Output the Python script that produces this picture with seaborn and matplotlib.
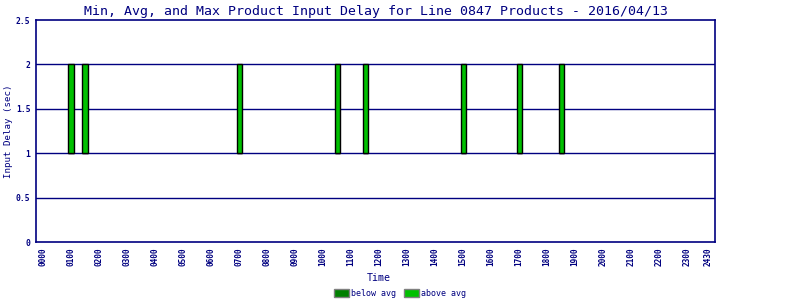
import matplotlib
matplotlib.use("Agg")
import matplotlib.pyplot as plt
import matplotlib.patches as mpatches
import seaborn as sns
import pandas as pd

# ---- data (hours of day, delay in seconds) ----
bar_hours = [1.0, 1.5, 7.0, 10.5, 11.5, 15.0, 17.0, 18.5]
min_delay = [1, 1, 1, 1, 1, 1, 1, 1]
avg_delay = [1, 1, 1, 1, 1, 1, 1, 1]
max_delay = [2, 2, 2, 2, 2, 2, 2, 2]
tick_hours = list(range(24)) + [23.75]
tick_labels = [f"{h:02d}00" for h in range(24)] + ["2430"]
y_ticks = [0, 0.5, 1, 1.5, 2, 2.5]
y_tick_labels = ["0", "0.5", "1", "1.5", "2", "2.5"]

NAVY = "#000080"
BELOW = "#008000"
ABOVE = "#00C000"

sns.set_theme(style="white")
plt.rcParams["font.family"] = ["DejaVu Sans Mono", "DejaVu Sans"]

fig = plt.figure(figsize=(8, 3), dpi=100)
ax = fig.add_axes([0.045, 0.193, 0.849, 0.74])

df = pd.DataFrame({
    "hour": bar_hours,
    "min": min_delay,
    "below": [a - m for a, m in zip(avg_delay, min_delay)],
    "above": [x - a for x, a in zip(max_delay, avg_delay)],
    "avg": avg_delay,
})

sns.barplot(data=df, x="hour", y="below", native_scale=True, width=0.36,
            bottom=df["min"].values, color=BELOW, saturation=1,
            edgecolor="black", linewidth=1, errorbar=None, ax=ax, zorder=3)
sns.barplot(data=df, x="hour", y="above", native_scale=True, width=0.36,
            bottom=df["avg"].values, color=ABOVE, saturation=1,
            edgecolor="black", linewidth=1, errorbar=None, ax=ax, zorder=3)

ax.set_xlim(-0.25, 24.0)
ax.set_ylim(0, 2.5)
ax.set_yticks(y_ticks)
ax.set_yticklabels(y_tick_labels, fontsize=5.8, color=NAVY, fontweight="bold")
ax.set_xticks(tick_hours)
ax.set_xticklabels(tick_labels, rotation=90, fontsize=5.6, color=NAVY,
                   fontweight="bold")
ax.tick_params(axis="both", length=0, pad=4)

for y in [0.5, 1, 1.5, 2]:
    ax.axhline(y, color=NAVY, linewidth=1, zorder=2)

for s in ax.spines.values():
    s.set_color(NAVY)
    s.set_linewidth(1.2)
    s.set_visible(True)

ax.set_xlabel("Time", fontsize=7.2, color=NAVY, labelpad=6)
ax.xaxis.set_label_coords(0.505, -0.14)
ax.set_ylabel("Input Delay (sec)", fontsize=6.6, color=NAVY)
ax.yaxis.set_label_coords(-0.034, 0.5)
ax.set_title("Min, Avg, and Max Product Input Delay for Line 0847 Products - 2016/04/13",
             fontsize=9.5, color=NAVY, pad=4)

handles = [mpatches.Patch(facecolor=BELOW, edgecolor="grey", label="below avg"),
           mpatches.Patch(facecolor=ABOVE, edgecolor="grey", label="above avg")]
fig.legend(handles=handles, loc="lower center", bbox_to_anchor=(0.5, -0.018),
           ncol=2, frameon=False, fontsize=6, labelcolor=NAVY,
           handlelength=1.8, handleheight=1.1, handletextpad=0.2,
           columnspacing=1.0)

fig.savefig("out.png", dpi=100, facecolor="white")
